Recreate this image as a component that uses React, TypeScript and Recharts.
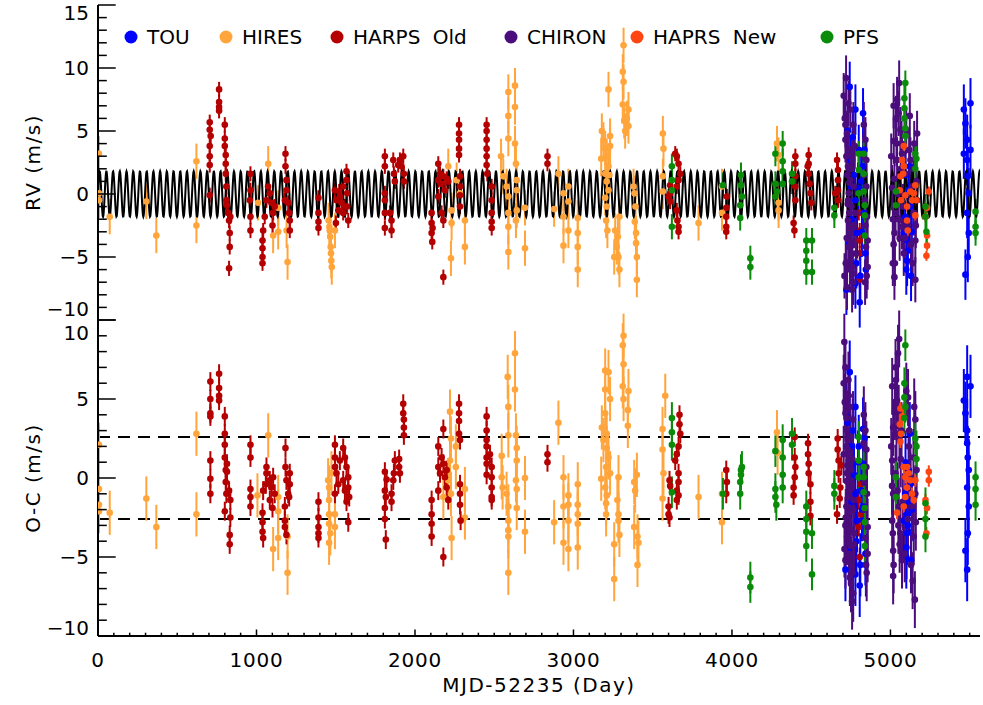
import React from 'react';
import { ScatterChart, Scatter, XAxis, YAxis, ErrorBar, ReferenceLine, Legend } from 'recharts';

// ---------- axes / ticks ----------
const X_MAX = 5565;
const xTicks = [0,100,200,300,400,500,600,700,800,900,1000,1100,1200,1300,1400,1500,1600,1700,1800,1900,2000,2100,2200,2300,2400,2500,2600,2700,2800,2900,3000,3100,3200,3300,3400,3500,3600,3700,3800,3900,4000,4100,4200,4300,4400,4500,4600,4700,4800,4900,5000,5100,5200,5300,5400,5500];
const xMajorTicks = [0,1000,2000,3000,4000,5000];
const rvTicks = [-10,-9,-8,-7,-6,-5,-4,-3,-2,-1,0,1,2,3,4,5,6,7,8,9,10,11,12,13,14,15];
const ocTicks = [-10,-9,-8,-7,-6,-5,-4,-3,-2,-1,0,1,2,3,4,5,6,7,8,9,10];
const rvDomain = [-10, 15];
const ocDomain = [-10, 10];
const ocRms = 2.6;

// ---------- series meta ----------
const seriesNames = ['TOU', 'HIRES', 'HARPS Old', 'CHIRON', 'HAPRS New', 'PFS'];
const seriesColors = ['#0000ff', '#ffa53c', '#b40000', '#4b0c7c', '#ff4612', '#0a8c0a'];
const seriesErrors = [2.0, 1.4, 0.6, 1.8, 0.4, 1.0];

// ---------- fitted model (Keplerian, circular) ----------
const modelPeriod = 42.38;
const modelK = 1.8;

// ---------- data: [day, value] ----------
const hiresRv = [[6,3.2],[6,0.05],[6,-0.5],[74,-1.8],[305,-0.6],[368,-3.3],[621,2.6],[621,-2.5],
[1010,-0.7],[1074,2.4],[1105,-3.3],[1137,-1.1],[1137,-3.0],[1190,-2.9],[1196,-5.4],
[1455,-2.1],[1460,-2.6],[1462,-2.9],[1465,-3.4],[1468,-4.2],[1470,-4.7],[1472,-5.3],[1475,-5.8],[1495,-2.9],
[2210,2.2],[2231,-1.3],[2231,-2.3],[2227,-5.1],[2263,1.1],[2284,0.05],[2315,-2.1],[2315,-4.2],
[2543,3.0],[2557,1.4],[2578,0.6],[2589,8.1],[2589,6.2],[2589,4.4],[2589,-0.2],[2589,-1.5],[2589,-2.6],[2589,-4.6],[2631,8.6],[2631,6.9],[2631,4.0],[2637,2.4],[2642,1.1],[2642,0.3],[2642,-1.3],[2637,-2.1],[2694,-1.1],[2694,-4.3],
[2878,-1.2],[2905,1.6],[2937,0.05],[2937,-1.8],[2937,-4.1],[2968,0.6],[2968,-0.6],[2968,-2.9],[3027,-1.9],[3027,-3.1],[3027,-4.2],[3027,-6.0],
[3179,5.0],[3189,4.3],[3200,3.6],[3210,3.0],[3221,2.2],[3200,1.6],[3210,1.0],[3221,0.3],[3200,-0.3],[3210,-1.0],[3231,4.6],[3231,3.8],[3175,2.8],[3227,1.5],[3206,-2.1],[3214,-2.9],[3221,8.3],
[3263,-2.9],[3273,-4.2],[3284,-5.0],[3290,-1.8],[3280,-3.4],[3290,-6.0],[3257,-5.0],
[3316,11.8],[3311,9.7],[3316,8.9],[3311,7.1],[3320,5.8],[3337,6.0],[3347,5.4],[3326,5.0],[3347,6.7],
[3379,0.6],[3385,0.05],[3391,-1.0],[3395,-3.1],[3400,-5.0],[3400,-6.8],[3395,-3.9],[3387,-2.2],
[3564,4.8],[3568,3.6],[3564,1.4],[3564,0.2],[3789,-2.3],[3937,0.6],[3937,-1.5],[4284,4.0],[4294,3.1],[4294,-1.3],[4294,-0.7]];

const hiresOc = [[6,2.1],[6,-0.7],[6,-1.7],[6,-2.1],[74,-2.2],[305,-1.3],[368,-3.1],[621,2.8],[621,-2.3],[1006,-1.1],[1074,2.7],[1105,-4.5],[1137,-1.2],[1137,-2.1],[1137,-3.8],[1196,-3.7],[1196,-6.0],
[1452,-0.15],[1458,-0.6],[1458,-1.4],[1458,-2.3],[1458,-2.9],[1466,-3.5],[1458,-4.1],[1495,-2.3],[1495,-3.1],[1473,0.3],
[2221,4.2],[2227,2.5],[2221,1.1],[2210,-0.15],[2227,-1.0],[2231,-3.8],[2258,0.7],[2258,2.0],[2315,-0.7],[2315,-2.5],[2179,-1.2],
[2585,6.4],[2589,4.5],[2589,2.7],[2547,1.4],[2547,0.05],[2553,-0.6],[2578,-1.0],[2589,-1.8],[2589,-2.7],[2589,-3.3],[2589,-3.7],[2589,-6.0],[2631,7.9],[2631,5.6],[2637,2.7],[2642,1.9],[2642,1.1],[2637,-0.15],[2642,-0.7],[2642,-1.9],[2694,0.0],[2694,-3.4],
[2878,-2.8],[2905,3.5],[2937,0.05],[2937,-1.8],[2937,-4.1],[2968,-1.1],[2968,-1.7],[2968,-2.7],[2968,-4.5],[3027,-0.4],[3027,-1.7],[3027,-2.3],[3027,-2.9],[3027,-4.4],
[3200,6.8],[3221,6.7],[3200,5.6],[3231,5.0],[3179,3.2],[3200,4.1],[3210,2.8],[3189,2.4],[3210,1.9],[3221,1.3],[3206,0.7],[3231,0.3],[3175,-0.05],[3200,-0.6],[3210,-1.1],[3206,-1.6],[3206,-2.3],[3284,0.05],[3277,-1.4],[3284,-2.3],[3290,-3.6],[3257,-4.2],[3257,-6.4],[3284,-2.7],
[3316,9.0],[3311,8.4],[3316,7.2],[3311,5.8],[3316,5.0],[3347,5.5],[3343,4.3],[3343,3.3],[3383,-0.25],[3389,-0.8],[3400,0.2],[3383,-3.1],[3404,-3.7],[3404,-5.5],[3410,-4.1],
[3579,5.2],[3562,3.1],[3562,1.8],[3568,0.3],[3562,-1.3],[3789,-1.2],[3937,-1.0],[3937,-2.8],[4284,2.9],[4288,1.6]];

const harpsOldRv = [[705,5.7],[705,5.1],[711,4.6],[705,3.8],[705,3.0],[705,2.3],[705,-0.1],
[764,8.3],[764,7.3],[764,6.9],[764,6.6],
[800,5.5],[800,4.4],[800,3.8],[806,3.1],[806,2.4],[806,1.6],[810,0.6],[810,-0.5],[814,-0.9],[821,-1.5],[827,-2.1],[831,-3.1],[831,-4.2],[827,-5.9],[835,-1.8],
[962,1.6],[962,0.3],[958,-0.5],[962,-1.8],[962,-2.9],
[1042,-2.9],[1038,-3.7],[1038,-4.3],[1038,-5.0],[1038,-5.5],[1052,-1.8],[1063,-0.5],
[1084,0.05],[1094,-0.7],[1105,-1.5],[1101,-2.5],[1115,-1.0],[1073,0.6],
[1183,3.2],[1183,2.2],[1189,1.1],[1189,0.3],[1200,-0.7],[1206,-1.5],[1210,-2.1],[1210,-2.9],[1179,-0.5],
[1391,-0.3],[1391,-1.5],[1391,-2.2],[1391,-2.7],
[1495,0.3],[1505,-0.5],[1516,-1.3],[1526,-0.2],[1537,-0.7],[1547,-1.5],[1558,-1.0],[1568,1.8],[1568,1.1],[1572,0.05],[1572,-1.0],[1579,-2.1],[1501,-2.3],[1547,0.6],[1522,0.2],
[1810,3.0],[1810,2.2],[1810,0.05],[1810,-0.5],[1810,-1.5],[1810,-2.7],[1852,-2.9],[1842,-1.5],[1852,-2.1],[1863,2.7],[1867,1.6],[1873,1.0],
[1905,2.7],[1915,2.2],[1926,3.0],[1930,1.6],[1930,1.0],[1894,2.3],
[2105,-1.5],[2105,-2.3],[2105,-3.1],[2109,-3.8],[2111,-2.7],[2179,-6.6],
[2147,2.4],[2147,1.1],[2147,-0.2],[2158,1.6],[2168,0.8],[2179,1.4],[2189,0.3],[2200,1.2],[2210,1.0],[2168,-1.5],[2179,-2.1],
[2278,5.5],[2278,4.8],[2278,4.3],[2278,3.6],[2278,3.1],[2284,1.4],[2284,0.6],[2284,-0.1],[2284,-1.0],
[2452,5.5],[2452,5.0],[2452,4.3],[2452,3.6],[2452,3.0],[2452,2.3],[2456,1.6],[2484,0.6],[2484,-0.5],[2484,-1.5],[2484,-2.2],[2484,-2.7],
[2836,3.0],[2836,2.4],
[3610,0.7],[3610,0.05],[3610,-0.6],[3642,3.2],[3652,3.0],[3663,2.4],[3674,1.6],[3663,1.1],[3652,0.6],[3652,-1.3],[3656,-2.1],[3663,-2.6],[3663,-3.0],[3600,-0.2],
[3968,-0.2],[3964,-1.1],[3964,-1.8],[3964,-2.6],[3964,-3.0],
[4400,3.0],[4400,2.4],[4400,1.4],[4400,0.6],[4400,-0.5],[4389,-2.3],[4394,-2.9],
[4484,3.1],[4484,2.4],[4484,1.6],[4490,0.8],[4495,0.05],[4501,-0.7],[4478,2.2],
[4663,2.7],[4669,1.9],[4669,1.1],[4669,0.3],[4669,-0.5],[4652,0.05],
[4806,-2.9],[4806,-3.7],[4806,-4.7],[4806,-6.8],[4800,-1.5]];

const harpsOldOc = [[709,6.1],[709,5.0],[709,4.1],[709,3.9],[709,1.1],[709,-0.05],[709,-1.0],
[764,6.6],[764,5.7],[764,5.2],[764,4.9],
[800,3.9],[800,2.8],[800,2.1],[800,1.3],[806,0.5],[806,-0.25],[810,-1.0],[800,-2.1],[827,-0.8],[835,-1.4],[835,-2.5],[831,-3.6],[831,-4.2],[814,0.9],[814,0.4],
[962,2.1],[962,1.3],[962,-0.7],[962,-1.2],[962,-1.8],
[1063,0.7],[1063,0.3],[1042,-0.8],[1038,-2.2],[1038,-2.8],[1038,-3.4],[1042,-3.8],[1084,-0.15],[1094,-0.6],[1105,0.05],[1115,-1.0],[1084,-1.4],[1059,-0.4],[1101,-1.9],
[1183,1.9],[1183,0.7],[1189,-0.15],[1200,-1.0],[1210,0.3],[1210,-0.4],[1206,-1.2],[1179,-1.8],[1179,-2.7],[1179,-3.1],[1189,-3.6],
[1391,-1.5],[1391,-2.5],[1391,-3.1],[1391,-3.5],[1391,-3.8],
[1495,2.1],[1495,1.3],[1495,0.7],[1505,0.3],[1495,-1.0],[1526,1.1],[1547,1.9],[1547,-0.15],[1558,-0.8],[1568,0.7],[1579,0.05],[1579,-0.6],[1585,-1.2],[1579,-2.8],[1568,-1.5],[1516,-0.4],[1558,1.3],
[1810,0.4],[1810,-0.8],[1816,-1.2],[1810,-1.9],[1810,-2.6],[1816,-3.9],[1821,-0.1],[1852,-1.0],[1852,-1.5],[1863,-0.15],[1867,0.3],[1873,1.1],[1900,1.2],[1900,0.7],[1905,0.3],[1926,4.7],[1926,4.1],[1930,3.7],[1930,3.2],[1930,2.7],
[2105,-1.4],[2105,-2.3],[2105,-2.9],[2105,-3.7],[2179,-5.0],[2147,2.0],[2147,0.7],[2158,0.3],[2147,-0.8],[2179,3.1],[2179,0.9],[2189,0.05],[2200,-0.6],[2210,-1.4],[2200,0.5],[2168,1.3],
[2278,4.7],[2278,4.1],[2278,3.6],[2278,2.8],[2284,-0.4],[2284,-1.0],[2284,-1.7],[2288,-2.7],[2284,2.4],
[2452,3.9],[2452,3.0],[2452,2.4],[2452,2.0],[2452,1.3],[2452,0.9],[2452,0.2],[2473,1.5],[2484,0.7],[2484,0.05],[2484,-0.6],[2484,-1.2],[2484,-1.4],
[2836,1.5],[2836,1.0],
[3600,-1.8],[3600,-2.3],[3606,-2.5],[3606,-0.15],[3610,-0.5],[3642,1.1],[3652,1.5],[3663,2.0],[3669,4.0],[3669,3.4],[3674,2.8],[3663,0.3],[3663,-0.25],[3652,-0.8],[3652,-1.4],[3663,-1.1],
[3964,0.5],[3968,-0.25],[3964,-1.0],
[4396,2.6],[4396,1.3],[4400,0.7],[4396,0.05],[4389,-0.6],[4389,-1.1],
[4480,2.2],[4480,1.5],[4484,0.9],[4484,0.3],[4495,-0.4],[4495,-1.5],[4495,-2.4],
[4667,2.5],[4667,1.8],[4673,1.1],[4673,0.3],[4684,-0.6],[4663,-2.3],[4680,-1.3],[4690,0.8],
[4806,-5.0],[4800,-3.1],[4800,-1.4],[4810,-0.4],[4812,-2.3]];

const chironRv = [[4720,9.2],[4747,6.7],[4726,4.8],[4737,3.5],[4732,2.2],[4747,1.1],[4737,0.05],[4754,-1.0],[4732,-2.1],[4747,-3.1],[4737,-4.2],[4747,-5.3],[4762,-6.3],[4726,-7.4],[4768,0.6],[4758,2.7],[4716,4.3],[4775,3.8],[4779,-1.5],[4783,-4.7],
[4705,7.8],[4712,6.0],[4716,5.5],[4722,3.0],[4728,1.5],[4733,-0.5],[4740,-1.5],[4745,-2.8],[4750,-3.8],[4756,-4.8],[4760,-5.8],[4765,-7.0],[4710,-6.5],[4718,-5.5],[4724,-3.5],[4730,-0.8],[4742,0.9],[4752,2.0],[4760,3.2],[4766,5.5],[4770,-2.5],[4735,7.2],[4744,-6.0],[4758,-7.6],
[4842,4.3],[4848,0.6],[4852,-1.8],[4856,-3.7],[4856,-5.8],[4848,2.7],[4830,3.0],[4835,1.5],[4838,-0.5],[4842,-2.5],[4846,-4.2],[4850,-6.5],[4832,5.5],[4840,-7.0],
[5021,4.2],[5025,1.2],[5032,-1.5],[5025,-3.1],[5025,-6.6],[5042,7.5],[5052,6.4],[5063,5.1],[5073,3.2],[5042,2.7],[5063,-0.5],[5073,-2.6],[5084,-4.7],[5122,6.2],[5126,2.7],[5136,0.6],[5147,-1.5],[5157,-3.7],[5157,-6.8],[5168,4.8],[5168,-0.5],[5094,1.6],
[5005,3.0],[5010,0.5],[5015,-2.0],[5020,-4.0],[5028,-5.5],[5035,6.0],[5038,4.0],[5045,0.0],[5050,-2.0],[5055,8.8],[5058,-3.5],[5065,2.0],[5070,4.0],[5078,-1.0],[5090,-3.5],[5100,5.0],[5110,-2.5],[5118,3.5],[5130,-4.0],[5140,-5.5],[5145,2.0],[5150,4.0],[5160,-2.5],[5165,1.0],[5015,-5.5],[5020,7.0]];

const chironOc = [[4709,8.6],[4737,5.2],[4716,4.1],[4726,3.0],[4722,2.0],[4737,1.1],[4726,0.3],[4743,-0.8],[4722,-1.8],[4737,-2.7],[4726,-3.7],[4737,-4.8],[4751,-6.7],[4716,-5.2],[4758,-0.4],[4747,2.6],[4705,1.5],[4764,3.7],[4768,-1.4],[4772,-3.5],[4716,7.0],
[4705,6.0],[4712,4.8],[4716,-3.0],[4722,3.8],[4728,0.8],[4733,-1.2],[4740,-2.2],[4745,-3.2],[4750,-4.3],[4756,-5.5],[4760,-6.0],[4765,-7.3],[4710,-4.5],[4718,-2.5],[4724,-0.2],[4730,1.8],[4742,4.5],[4752,0.5],[4760,1.2],[4766,-2.0],[4770,-4.2],[4735,6.2],[4744,-6.3],[4758,-7.8],
[4842,3.0],[4848,0.7],[4852,-1.0],[4856,-3.1],[4856,-4.8],[4848,1.8],[4830,2.2],[4835,-0.3],[4838,-2.0],[4842,-3.8],[4846,-5.5],[4850,-6.0],[4832,4.0],
[5011,5.8],[5017,3.2],[5011,1.1],[5017,-1.0],[5011,-2.7],[5017,-4.6],[5017,-6.2],[5032,7.0],[5042,4.9],[5052,4.1],[5057,2.4],[5032,0.3],[5052,-1.8],[5063,-3.5],[5073,-5.2],[5111,5.1],[5116,2.0],[5126,0.05],[5136,-1.8],[5147,-3.7],[5154,-7.7],[5157,3.7],[5157,-1.0],[5048,7.9],
[5005,2.0],[5010,-0.5],[5015,-3.5],[5020,-5.5],[5028,4.2],[5035,6.2],[5038,2.8],[5045,-0.8],[5050,-3.0],[5055,8.8],[5058,-4.2],[5065,1.2],[5070,3.0],[5078,-1.5],[5090,-4.8],[5100,5.5],[5110,-2.6],[5118,3.0],[5130,-5.5],[5140,-6.5],[5145,1.3],[5150,4.5],[5160,-2.8],[5165,0.5]];

const touRv = [[4743,8.5],[4722,-7.6],[4751,0.6],[4779,6.7],[4779,-0.5],[4779,-7.1],[4806,-8.6],[4827,6.4],[4827,2.2],[4831,-1.5],[4842,-4.7],[4800,3.5],[4789,-3.1],[4747,2.7],
[4730,5.0],[4738,-4.0],[4755,-2.0],[4762,4.5],[4770,1.5],[4785,-5.5],[4795,0.5],[4810,-6.5],[4815,1.0],[4820,-3.0],[4836,3.5],[4845,-6.0],
[5094,-1.8],[5105,-5.3],[5115,0.3],[5105,-3.7],[5126,-1.0],[5084,-3.1],[5122,2.2],[5100,-6.0],[5110,-4.5],[5118,-2.5],[5130,-6.5],[5095,1.5],[5135,-3.0],
[5463,6.7],[5505,7.2],[5473,5.6],[5484,4.3],[5484,2.7],[5488,1.4],[5494,0.05],[5484,-1.5],[5494,-3.1],[5488,-5.0],[5473,-6.4],[5505,3.5],[5463,3.2]];

const touOc = [[4743,6.7],[4716,-5.8],[4751,0.5],[4779,4.5],[4779,-1.0],[4779,-6.1],[4806,-6.8],[4827,3.1],[4827,0.9],[4831,-1.8],[4842,-4.8],[4800,2.0],[4789,-2.7],[4747,2.0],[4722,4.0],
[4730,3.5],[4738,-4.5],[4755,-1.5],[4762,3.0],[4770,0.2],[4785,-4.0],[4795,1.0],[4810,-5.5],[4815,-0.8],[4820,-2.0],[4836,2.5],[4845,-5.5],
[5094,-1.0],[5105,-3.5],[5115,0.5],[5105,-2.3],[5126,-0.4],[5084,-2.7],[5122,2.8],[5101,-4.4],[5100,-5.0],[5110,-3.0],[5118,-1.5],[5130,-5.2],[5095,1.0],[5135,-2.0],
[5463,4.9],[5484,6.4],[5505,5.8],[5473,4.1],[5484,3.0],[5484,2.2],[5488,1.3],[5494,0.5],[5484,-0.6],[5494,-1.8],[5488,-3.5],[5473,-4.6],[5484,-5.8]];

const haprsNewRv = [[5084,3.8],[5073,2.7],[5063,1.4],[5059,0.3],[5067,-0.5],[5094,-0.1],[5105,-1.0],[5105,-2.1],[5109,-2.9],[5126,0.2],[5136,-0.5],[5147,0.05],[5157,0.7],[5164,-0.5],[5157,-1.7],[5084,2.2],[5080,1.6],
[5242,0.2],[5231,-1.1],[5221,-1.8],[5231,-4.1],[5227,-4.9],[5231,-3.3]];

const haprsNewOc = [[5063,4.4],[5059,3.4],[5067,2.8],[5063,2.3],[5073,3.9],[5084,0.7],[5094,0.05],[5105,-0.6],[5094,-1.2],[5084,-1.8],[5115,0.3],[5126,-0.15],[5136,-1.0],[5147,-1.4],[5157,-0.15],[5042,-2.2],[5105,0.7],
[5242,0.4],[5242,-0.15],[5221,-1.4],[5231,-1.9],[5227,-3.5]];

const pfsRv = [[3621,2.2],[3621,1.1],[3621,0.3],[3621,-2.6],[3943,0.7],
[4057,1.5],[4057,0.7],[4052,-0.9],[4052,-1.9],[4063,-0.2],[4116,-5.1],[4116,-5.8],
[4274,3.2],[4320,4.0],[4320,2.6],[4320,1.8],[4320,0.8],[4274,0.8],[4284,0.2],[4274,-0.2],[4379,1.6],[4379,1.0],
[4469,-3.7],[4469,-4.5],[4469,-5.3],[4469,-6.2],[4505,-3.7],[4505,-6.2],[4646,-1.1],[4646,-1.7],
[4800,3.2],[4800,1.9],[4831,3.2],[4831,1.6],[4831,0.2],[4838,-0.9],[4838,-1.7],[4838,-3.3],[4800,0.05],
[5094,8.8],[5088,7.6],[5088,6.8],[5088,6.0],[5094,5.2],[5094,4.6],[5034,0.2],[5034,-0.9],[5157,3.2],[5157,2.0],[5164,2.8],
[5221,-1.0],[5221,-1.8],[5227,-3.0],[5537,-1.4],[5537,-2.6],[5537,-3.1]];

const pfsOc = [[3621,3.8],[3621,2.9],[3621,2.1],[3621,-0.9],[3943,-1.0],
[4057,0.5],[4057,0.2],[4052,-0.25],[4052,-1.0],[4063,0.7],[4116,-6.3],[4116,-6.9],
[4274,1.7],[4320,2.4],[4320,1.3],[4320,0.2],[4320,-0.6],[4274,-0.7],[4274,-1.2],[4280,-1.7],[4379,2.8],[4379,2.1],
[4469,-1.8],[4469,-2.6],[4469,-3.4],[4469,-4.3],[4505,-3.5],[4505,-6.1],[4646,-0.5],[4646,-1.0],
[4800,2.6],[4800,1.1],[4831,0.7],[4831,0.05],[4831,-0.9],[4838,-1.9],[4838,-2.8],[4838,-4.3],[4800,0.05],
[5094,8.4],[5088,6.0],[5088,5.1],[5094,4.5],[5088,3.8],[5034,0.05],[5034,-1.2],[5164,2.0],[5164,1.2],[5157,2.5],
[5221,-1.6],[5221,-2.6],[5221,-3.7],[5537,0.05],[5537,-0.7],[5537,-1.7]];

// ---------- helpers ----------
const FONT = '"DejaVu Sans", "Liberation Sans", sans-serif';
const toPts = (arr: number[][], err: number) => arr.map(([x, y]) => ({ x, y, e: err }));

const modelData: { x: number; y: number }[] = [];
for (let t = 0; t <= X_MAX; t += 2) {
  modelData.push({ x: t, y: modelK * Math.sin((2 * Math.PI * t) / modelPeriod) });
}

// draw order (bottom to top): HIRES, HARPS Old, TOU, CHIRON, HAPRS New, PFS
const order = [1, 2, 0, 3, 4, 5];
const rvSets = [touRv, hiresRv, harpsOldRv, chironRv, haprsNewRv, pfsRv];
const ocSets = [touOc, hiresOc, harpsOldOc, chironOc, haprsNewOc, pfsOc];

const makeXTick = (side: 'top' | 'bottom', labels: boolean) => (props: any) => {
  const { x, y, payload } = props;
  const v = payload.value;
  const major = xMajorTicks.includes(v);
  const len = major ? 6.5 : 3.3;
  const dir = side === 'bottom' ? -1 : 1;
  return (
    <g>
      <line x1={x} x2={x} y1={y} y2={y + dir * len} stroke="#000" strokeWidth={1.5} />
      {labels && major && (
        <text x={x} y={y + 31} textAnchor="middle" fontSize={20} fontFamily={FONT} fill="#000" style={{ letterSpacing: 0.8 }}>
          {v}
        </text>
      )}
    </g>
  );
};

const makeYTick = (side: 'left' | 'right', labels: boolean, minBase = -1e9, maxBase = 1e9) => (props: any) => {
  const { x, y, payload } = props;
  const v = payload.value;
  const major = v % 5 === 0;
  const len = major ? 17.7 : 8.8;
  const dir = side === 'left' ? 1 : -1;
  const ty = Math.min(Math.max(y + 7, minBase), maxBase);
  return (
    <g>
      <line x1={x} x2={x + dir * len} y1={y} y2={y} stroke="#000" strokeWidth={1.5} />
      {labels && major && (
        <text x={x - 9} y={ty} textAnchor="end" fontSize={20} fontFamily={FONT} fill="#000">
          {String(v).replace('-', '\u2212')}
        </text>
      )}
    </g>
  );
};

const axisLine = { stroke: '#000', strokeWidth: 2 };
const Nothing = () => <g />;

const dot = (color: string) => (p: any) => <circle cx={p.cx} cy={p.cy} r={3.3} fill={color} />;

const renderLegend = () => {
  const xs = [131, 226, 337, 511, 637, 827];
  return (
    <svg width={983} height={50} style={{ display: 'block' }}>
      {seriesNames.map((n, i) => (
        <g key={n}>
          <circle cx={xs[i]} cy={37} r={6.5} fill={seriesColors[i]} />
          <text x={xs[i] + 16} y={44} fontSize={20} fontFamily={FONT} fill="#000" wordSpacing={6}>
            {n}
          </text>
        </g>
      ))}
    </svg>
  );
};

const yLabel = (text: string, cy: number) => () => (
  <text x={40} y={cy} transform={`rotate(-90, 40, ${cy})`} textAnchor="middle" fontSize={20} fontFamily={FONT} fill="#000" style={{ letterSpacing: 1.5 }}>
    {text}
  </text>
);

const xLabel = (props: any) => {
  const vb = props.viewBox || { x: 98, y: 336, width: 882 };
  return (
    <text x={vb.x + vb.width / 2} y={vb.y + 56} textAnchor="middle" fontSize={20} fontFamily={FONT} fill="#000" style={{ letterSpacing: 1.5 }}>
      MJD-52235 (Day)
    </text>
  );
};

function seriesFor(sets: number[][][]) {
  return order.map((i) => {
    const color = seriesColors[i];
    return (
      <Scatter
        key={seriesNames[i]}
        name={seriesNames[i]}
        data={toPts(sets[i], seriesErrors[i])}
        dataKey="y"
        fill={color}
        shape={dot(color)}
        isAnimationActive={false}
      >
        <ErrorBar dataKey="e" direction="y" width={0} stroke={color} strokeWidth={2} />
      </Scatter>
    );
  });
}

export default function App() {
  return (
    <div style={{ position: 'absolute', left: 0, top: 0, width: 983, height: 705, background: '#fff', overflow: 'hidden' }}>
      {/* top panel: RV (plot area y 5..320) */}
      <div style={{ position: 'absolute', left: 0, top: 0 }}>
        <ScatterChart width={983} height={340} margin={{ top: 5, right: 3, bottom: 20, left: 40 }}>
          <XAxis xAxisId={0} type="number" dataKey="x" domain={[0, X_MAX]} ticks={xTicks} interval={0} tickSize={0} tickMargin={0} height={0} axisLine={axisLine} tickLine={false} tick={makeXTick('bottom', false)} allowDataOverflow />
          <XAxis xAxisId="top" orientation="top" type="number" domain={[0, X_MAX]} ticks={xTicks} interval={0} tickSize={0} tickMargin={0} height={0} axisLine={axisLine} tickLine={false} tick={makeXTick('top', false)} allowDataOverflow />
          <YAxis yAxisId={0} type="number" dataKey="y" domain={rvDomain} ticks={rvTicks} interval={0} tickSize={0} tickMargin={0} width={58} axisLine={axisLine} tickLine={false} tick={makeYTick('left', true, 20, 316)} allowDataOverflow label={yLabel('RV (m/s)', 162.5)} />
          <YAxis yAxisId="right" orientation="right" type="number" domain={rvDomain} ticks={rvTicks} interval={0} tickSize={0} tickMargin={0} width={0} axisLine={axisLine} tickLine={false} tick={makeYTick('right', false)} allowDataOverflow />
          <Scatter name="model" data={modelData} dataKey="y" line={{ stroke: '#000', strokeWidth: 2 }} shape={Nothing} isAnimationActive={false} legendType="none" />
          {seriesFor(rvSets)}
          <Legend layout="horizontal" verticalAlign="middle" align="center" content={renderLegend} wrapperStyle={{ position: 'absolute', left: 0, top: 0, width: 983, height: 50 }} />
        </ScatterChart>
      </div>
      {/* bottom panel: O-C (plot area y 320..636) */}
      <div style={{ position: 'absolute', left: 0, top: 300 }}>
        <ScatterChart width={983} height={405} margin={{ top: 20, right: 3, bottom: 0, left: 40 }}>
          <XAxis xAxisId={0} type="number" dataKey="x" domain={[0, X_MAX]} ticks={xTicks} interval={0} tickSize={0} tickMargin={0} height={69} axisLine={axisLine} tickLine={false} tick={makeXTick('bottom', true)} allowDataOverflow label={xLabel} />
          <XAxis xAxisId="top" orientation="top" type="number" domain={[0, X_MAX]} ticks={xTicks} interval={0} tickSize={0} tickMargin={0} height={0} axisLine={axisLine} tickLine={false} tick={makeXTick('top', false)} allowDataOverflow />
          <YAxis yAxisId={0} type="number" dataKey="y" domain={ocDomain} ticks={ocTicks} interval={0} tickSize={0} tickMargin={0} width={58} axisLine={axisLine} tickLine={false} tick={makeYTick('left', true, 40, 335)} allowDataOverflow label={yLabel('O-C (m/s)', 178)} />
          <YAxis yAxisId="right" orientation="right" type="number" domain={ocDomain} ticks={ocTicks} interval={0} tickSize={0} tickMargin={0} width={0} axisLine={axisLine} tickLine={false} tick={makeYTick('right', false)} allowDataOverflow />
          <ReferenceLine y={ocRms} stroke="#000" strokeWidth={2} strokeDasharray="12 8" />
          <ReferenceLine y={-ocRms} stroke="#000" strokeWidth={2} strokeDasharray="12 8" />
          {seriesFor(ocSets)}
        </ScatterChart>
      </div>
    </div>
  );
}
